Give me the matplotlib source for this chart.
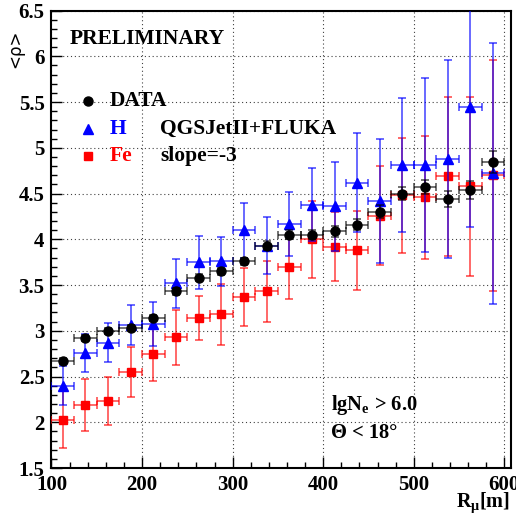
import numpy as np
import matplotlib
matplotlib.use("Agg")
import matplotlib.pyplot as plt
from matplotlib.ticker import MultipleLocator

# bin centres in R_mu [m] and half-width
r_mu = [112.5, 137.5, 162.5, 187.5, 212.5, 237.5, 262.5, 287.5, 312.5, 337.5,
        362.5, 387.5, 412.5, 437.5, 462.5, 487.5, 512.5, 537.5, 562.5, 587.5]
r_halfwidth = 12.5

data_rho = [2.67, 2.92, 3.00, 3.03, 3.14, 3.43, 3.58, 3.65, 3.76, 3.93,
            4.05, 4.05, 4.09, 4.16, 4.30, 4.50, 4.57, 4.44, 4.54, 4.85]
data_err = [0.03, 0.03, 0.03, 0.03, 0.03, 0.04, 0.04, 0.04, 0.04, 0.05,
            0.05, 0.05, 0.06, 0.06, 0.07, 0.07, 0.08, 0.09, 0.10, 0.12]

h_rho = [2.40, 2.76, 2.87, 3.06, 3.07, 3.52, 3.75, 3.76, 4.10, 3.93,
         4.17, 4.38, 4.36, 4.62, 4.42, 4.81, 4.81, 4.88, 5.45, 4.72]
h_err = [0.21, 0.21, 0.21, 0.22, 0.24, 0.27, 0.29, 0.27, 0.30, 0.31,
         0.35, 0.40, 0.49, 0.54, 0.68, 0.73, 0.95, 1.08, 1.32, 1.43]

fe_rho = [2.03, 2.19, 2.23, 2.55, 2.75, 2.93, 3.14, 3.18, 3.37, 3.43,
          3.70, 4.00, 3.92, 3.88, 4.26, 4.48, 4.46, 4.69, 4.58, 4.70]
fe_err = [0.31, 0.28, 0.26, 0.27, 0.30, 0.30, 0.24, 0.33, 0.32, 0.33,
          0.35, 0.42, 0.38, 0.43, 0.54, 0.63, 0.67, 0.87, 0.98, 1.26]

serif = "Liberation Serif"

fig = plt.figure(figsize=(5.16, 5.21), dpi=100)
ax = fig.add_axes([0.0998, 0.1017, 0.8899, 0.878])

common = dict(xerr=r_halfwidth, linestyle="none", capsize=2.6, elinewidth=1.1,
              capthick=1.1)
ax.errorbar(r_mu, fe_rho, yerr=fe_err, fmt="s", color="red", ms=6.2,
            ecolor=(1, 0, 0, 0.75), zorder=3, **common)
ax.errorbar(r_mu, h_rho, yerr=h_err, fmt="^", color="blue", ms=6.5,
            ecolor=(0, 0, 1, 0.75), zorder=4, **common)
ax.errorbar(r_mu, data_rho, yerr=data_err, fmt="o", color="black", ms=6.5,
            ecolor=(0, 0, 0, 0.7), zorder=5, **common)

ax.set_xlim(100, 607)
ax.set_ylim(1.5, 6.5)
ax.xaxis.set_major_locator(MultipleLocator(100))
ax.xaxis.set_minor_locator(MultipleLocator(20))
ax.yaxis.set_major_locator(MultipleLocator(0.5))
ax.yaxis.set_minor_locator(MultipleLocator(0.1))
ax.yaxis.set_major_formatter(plt.FuncFormatter(lambda v, p: f"{v:g}"))
ax.tick_params(which="both", direction="in", top=False, right=False, width=1.0)
ax.tick_params(which="major", length=8, labelsize=15, pad=5)
ax.tick_params(which="minor", length=4)
for lab in ax.get_xticklabels() + ax.get_yticklabels():
    lab.set_fontfamily(serif)
    lab.set_fontweight("bold")
for s in ax.spines.values():
    s.set_linewidth(1.5)

ax.grid(True, which="major", color="black", linestyle=(0, (1, 2.5)),
        linewidth=0.8, alpha=0.75)
ax.set_axisbelow(True)

txt = dict(fontfamily=serif, fontweight="bold", fontsize=15.5, va="center",
           transform=fig.transFigure)
W, H = 516, 521
fig.text(70 / W, 1 - 39 / H, "PRELIMINARY", **txt)

# legend, placed by hand like the original
fig.lines.append(plt.Line2D([88 / W], [1 - 101 / H], marker="o", color="black",
                            ms=6.5, transform=fig.transFigure))
fig.lines.append(plt.Line2D([88 / W], [1 - 129 / H], marker="^", color="blue",
                            ms=6.5, transform=fig.transFigure))
fig.lines.append(plt.Line2D([88 / W], [1 - 156 / H], marker="s", color="red",
                            ms=6.2, transform=fig.transFigure))
fig.text(110 / W, 1 - 101 / H, "DATA", color="black", **txt)
fig.text(110 / W, 1 - 129 / H, "H", color="blue", **txt)
fig.text(110 / W, 1 - 156 / H, "Fe", color="red", **txt)
fig.text(160 / W, 1 - 129 / H, "QGSJetII+FLUKA", color="black", **txt)
fig.text(160 / W, 1 - 156 / H, "slope=-3", color="black", **txt)

small = {**txt, "fontsize": 14.8}
fig.text(331 / W, 1 - 405 / H, r"lgN$_\mathregular{e}$ > 6.0", **small)
fig.text(331 / W, 1 - 433 / H, "\u0398 < 18\u00b0", **small)

fig.text(510 / W, 1 - 503 / H, r"R$_\mathregular{\mu}$[m]", ha="right",
         **{**txt, "fontsize": 14.5})
fig.text(15 / W, 1 - 49 / H, "<\u03c1>", rotation=90, ha="center", va="center",
         fontsize=12, fontfamily="DejaVu Sans", transform=fig.transFigure)

fig.savefig("out.png", dpi=100)
